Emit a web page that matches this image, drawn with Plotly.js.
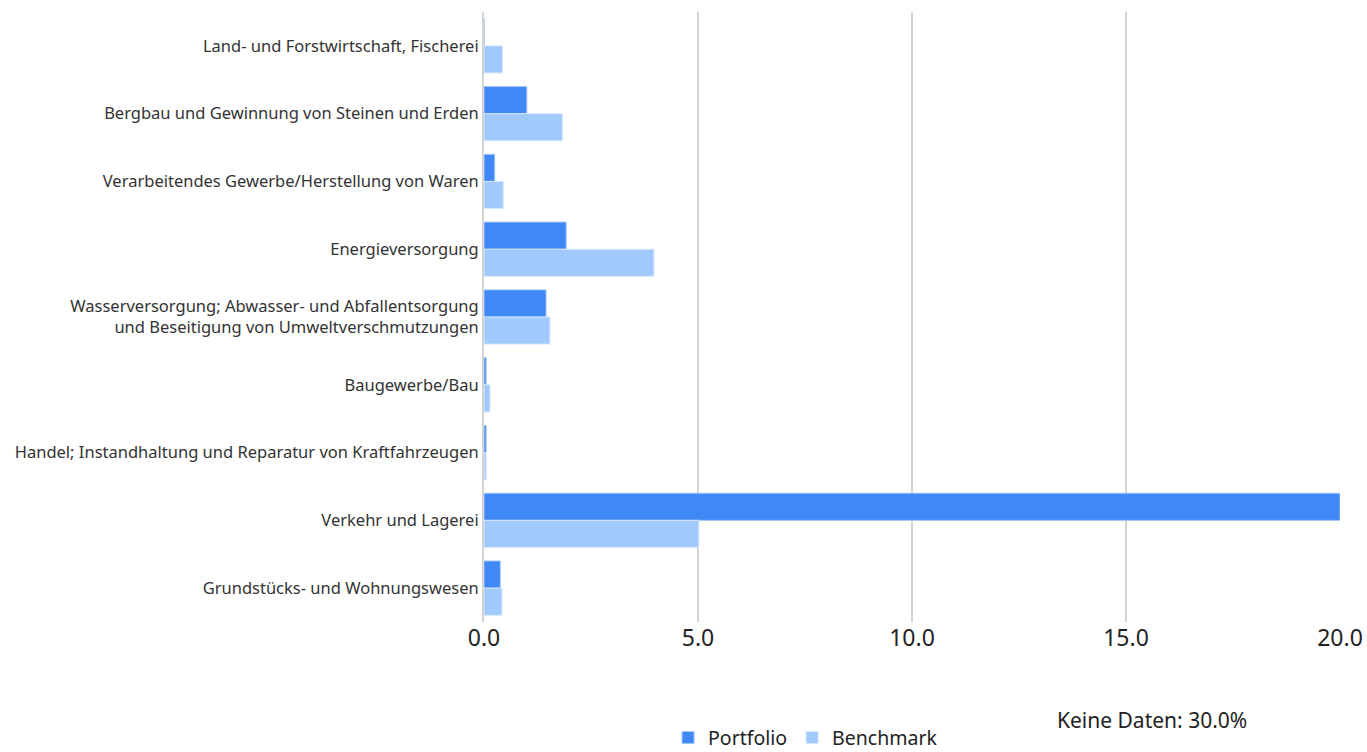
<!DOCTYPE html>
<html>
<head>
<meta charset="utf-8">
<script src="https://cdn.plot.ly/plotly-3.0.1.min.js"></script>
<style>html,body{margin:0;padding:0;background:#fff;}#chart{width:1367px;height:752px;}</style>
</head>
<body>
<div id="chart"></div>
<script>
const categories = [
  "Land- und Forstwirtschaft, Fischerei",
  "Bergbau und Gewinnung von Steinen und Erden",
  "Verarbeitendes Gewerbe/Herstellung von Waren",
  "Energieversorgung",
  "Wasserversorgung; Abwasser- und Abfallentsorgung<br>und Beseitigung von Umweltverschmutzungen",
  "Baugewerbe/Bau",
  "Handel; Instandhaltung und Reparatur von Kraftfahrzeugen",
  "Verkehr und Lagerei",
  "Grundstücks- und Wohnungswesen"
];
const portfolio = [0, 1.0, 0.25, 1.92, 1.45, 0.05, 0.05, 20.0, 0.38];
const benchmark = [0.43, 1.83, 0.45, 3.97, 1.54, 0.14, 0.05, 5.02, 0.42];
const xTickVals = [0, 5, 10, 15, 20];
const xTickText = ["0.0", "5.0", "10.0", "15.0", "20.0"];
const noDataText = "Keine Daten: 30.0%";

const font = "'Noto Sans', 'Open Sans', sans-serif";

const traces = [
  {type: "bar", orientation: "h", name: "Portfolio", y: categories, x: portfolio,
   marker: {color: "#3F88F5", line: {color: "#9fc4f7", width: 1}}, hoverinfo: "x"},
  {type: "bar", orientation: "h", name: "Benchmark", y: categories, x: benchmark,
   marker: {color: "#A0C9FD", line: {color: "#d6e7fd", width: 1}}, hoverinfo: "x"}
];

const layout = {
  width: 1367, height: 752,
  margin: {l: 484, r: 27, t: 12, b: 130, autoexpand: false},
  paper_bgcolor: "#fff", plot_bgcolor: "#fff",
  barmode: "group", bargap: 0.2, bargroupgap: 0,
  font: {family: font, color: "#222"},
  xaxis: {range: [0, 20], tickvals: xTickVals, ticktext: xTickText,
          showgrid: true, gridcolor: "#d4d4d4", gridwidth: 2, zeroline: false,
          showline: false, ticks: "", tickfont: {size: 23, color: "#222"}, fixedrange: true},
  yaxis: {autorange: "reversed", showline: true, linecolor: "#d4d4d4", linewidth: 2,
          ticks: "", ticklen: 4, tickfont: {size: 16.5, color: "#333"}, fixedrange: true},
  showlegend: true,
  legend: {orientation: "h", x: 0.215, xanchor: "left", y: -0.19, yanchor: "middle",
           font: {size: 19.5, color: "#222"}, traceorder: "normal"},
  annotations: [{text: noDataText, xref: "paper", yref: "paper", x: 0.78, y: -0.16,
                 xanchor: "center", yanchor: "middle", showarrow: false,
                 font: {size: 21, color: "#222", family: font}}]
};

Plotly.newPlot("chart", traces, layout, {displayModeBar: false, staticPlot: true});
</script>
</body>
</html>
